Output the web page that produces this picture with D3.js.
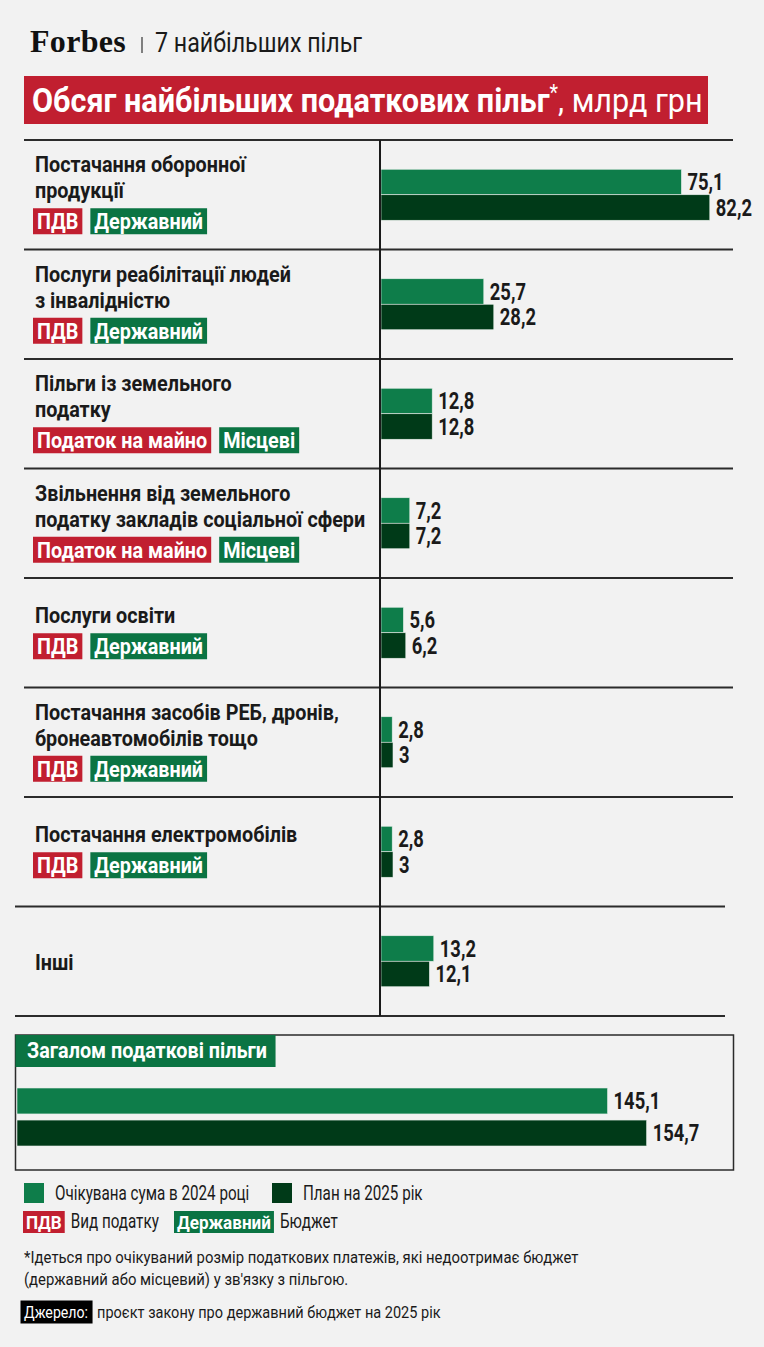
<!DOCTYPE html>
<html>
<head>
<meta charset="utf-8">
<script src="https://cdn.jsdelivr.net/npm/d3@7"></script>
<style>
  body { margin: 0; background: #f2f2f2; }
  svg { display: block; font-family: Roboto, "Noto Sans", sans-serif; }
</style>
</head>
<body>
<svg id="chart" width="764" height="1347"></svg>
<script>
// ---- data ----
var titles = [
  "Постачання оборонної\nпродукції",
  "Послуги реабілітації людей\nз інвалідністю",
  "Пільги із земельного\nподатку",
  "Звільнення від земельного\nподатку закладів соціальної сфери",
  "Послуги освіти",
  "Постачання засобів РЕБ, дронів,\nбронеавтомобілів тощо",
  "Постачання електромобілів",
  "Інші"
];
var taxTypes = ["ПДВ", "ПДВ", "Податок на майно", "Податок на майно", "ПДВ", "ПДВ", "ПДВ", null];
var budgets = ["Державний", "Державний", "Місцеві", "Місцеві", "Державний", "Державний", "Державний", null];
var expected2024 = [75.1, 25.7, 12.8, 7.2, 5.6, 2.8, 2.8, 13.2];
var plan2025 = [82.2, 28.2, 12.8, 7.2, 6.2, 3, 3, 12.1];
var totals = [145.1, 154.7];
var seriesNames = ["Очікувана сума в 2024 році", "План на 2025 рік"];

var colors = ["#0e7d4a", "#003a18"];
var red = "#c11f30", tagGreen = "#0b7443", ink = "#1a1a1a";
var C_BOLD = 0.9, C_REG = 0.86, C_LEG = 0.78, C_NUM = 0.8;

var svg = d3.select("#chart");

var locale = d3.formatLocale({decimal: ",", thousands: " ", grouping: [3], currency: ["", ""]});
var fmt = locale.format(".1~f");

// text helper: draws Roboto and squeezes it to a condensed look
function addText(parent, str, x, y, o) {
  o = o || {};
  var c = o.cond || C_BOLD;
  var t = parent.append("text")
    .attr("transform", "translate(" + x + "," + y + ") scale(" + c + ",1)")
    .attr("font-size", o.size || 22)
    .attr("font-weight", o.weight || 700)
    .attr("fill", o.fill || ink)
    .attr("text-anchor", o.anchor || "start")
    .text(str);
  t.w = t.node().getComputedTextLength() * c;
  return t;
}

function tag(parent, str, x, y, fill, h, size, pad) {
  h = h || 26;
  size = size || 22;
  pad = pad || 4;
  var r = parent.append("rect").attr("x", x).attr("y", y).attr("height", h).attr("fill", fill);
  var t = addText(parent, str, x + pad, y + h / 2 + size * 0.355, {size: size, fill: "#fff"});
  r.attr("width", t.w + 2 * pad);
  return x + t.w + 2 * pad;
}

// ---- header ----
svg.append("text")
  .attr("x", 30).attr("y", 52)
  .attr("font-family", "'Liberation Serif', 'DejaVu Serif', serif")
  .attr("font-size", 32).attr("font-weight", 700)
  .attr("letter-spacing", 0.3)
  .attr("fill", "#111")
  .text("Forbes");
svg.append("line")
  .attr("x1", 142).attr("x2", 142).attr("y1", 37).attr("y2", 53)
  .attr("stroke", "#333").attr("stroke-width", 1.2);
addText(svg, "7 найбільших пільг", 155, 52, {size: 27, weight: 400, cond: 0.86});

svg.append("rect").attr("x", 24).attr("y", 76).attr("width", 684).attr("height", 48).attr("fill", red);
var ttl = svg.append("text")
  .attr("transform", "translate(32,112) scale(0.9,1)")
  .attr("font-size", 34).attr("fill", "#fff");
ttl.append("tspan").attr("font-weight", 700).text("Обсяг найбільших податкових пільг");
ttl.append("tspan").attr("font-size", 22).attr("dy", -12).text("*");
ttl.append("tspan").attr("dy", 12).attr("font-weight", 400).text(", млрд грн");

// ---- rows ----
var rowTop = 140, rowBottom = 1016;
var y = d3.scaleBand().domain(d3.range(titles.length)).range([rowTop, rowBottom]);
var yInner = d3.scaleBand().domain([0, 1]).range([-25.5, 25.5]);
var x = d3.scaleLinear().domain([0, 100]).range([381, 781]);

// dividers
d3.range(titles.length + 1).forEach(function(i) {
  var yy = i < titles.length ? y(i) : rowBottom;
  var last = i >= titles.length - 1;
  svg.append("line")
    .attr("x1", last ? 15 : 24).attr("x2", last ? 725 : 733)
    .attr("y1", yy).attr("y2", yy)
    .attr("stroke", "#2b2b2b").attr("stroke-width", 2);
});

titles.forEach(function(title, i) {
  var g = svg.append("g");
  var cy = y(i) + y.bandwidth() / 2;
  var lines = title.split("\n");
  var hasTags = taxTypes[i] != null;
  var blockH = 15 + (lines.length - 1) * 26 + (hasTags ? 36 : 0);
  var base = cy - blockH / 2 + 16;
  lines.forEach(function(l, j) {
    addText(g, l, 35, base + j * 26, {size: 22});
  });
  if (hasTags) {
    var ty = base + (lines.length - 1) * 26 + 10;
    var nx = tag(g, taxTypes[i], 33, ty, red);
    tag(g, budgets[i], nx + 8, ty, tagGreen);
  }

  var vals = [expected2024[i], plan2025[i]];
  vals.forEach(function(v, k) {
    var by = cy + yInner(k);
    g.append("rect")
      .attr("x", x(0)).attr("y", by)
      .attr("width", x(v) - x(0)).attr("height", yInner.bandwidth())
      .attr("fill", colors[k])
      .attr("stroke", "#e6efe9").attr("stroke-width", 0.6);
    addText(g, fmt(v), x(v) + 6, by + yInner.bandwidth() / 2 + 8, {size: 23, cond: C_NUM});
  });
});

// axis line
svg.append("line")
  .attr("x1", 380).attr("x2", 380).attr("y1", rowTop).attr("y2", rowBottom)
  .attr("stroke", "#1a1a1a").attr("stroke-width", 2);

// ---- totals box ----
var box = svg.append("g");
box.append("rect").attr("x", 15.5).attr("y", 1035).attr("width", 718).attr("height", 135)
  .attr("fill", "none").attr("stroke", "#2b2b2b").attr("stroke-width", 1.5);
var lbl = addText(box, "Загалом податкові пільги", 27, 1058, {size: 22, fill: "#fff"});
box.insert("rect", "text").attr("x", 15.5).attr("y", 1035).attr("width", lbl.w + 20).attr("height", 32)
  .attr("fill", tagGreen);

var xTotal = d3.scaleLinear().domain([0, 100]).range([17, 424]);
var yTotal = d3.scaleBand().domain([0, 1]).range([1088, 1146]).paddingInner(0.19);
totals.forEach(function(v, k) {
  box.append("rect")
    .attr("x", xTotal(0)).attr("y", yTotal(k))
    .attr("width", xTotal(v) - xTotal(0)).attr("height", yTotal.bandwidth())
    .attr("fill", colors[k])
    .attr("stroke", "#e6efe9").attr("stroke-width", 0.6);
  addText(box, fmt(v), xTotal(v) + 6, yTotal(k) + yTotal.bandwidth() / 2 + 8, {size: 23, cond: C_NUM});
});

// ---- legend ----
var leg = svg.append("g");
var legX = [24, 272];
seriesNames.forEach(function(s, k) {
  leg.append("rect").attr("x", legX[k]).attr("y", 1183).attr("width", 20).attr("height", 20).attr("fill", colors[k]);
  addText(leg, s, legX[k] + 31, 1200, {size: 19.5, weight: 400, cond: C_LEG});
});
var nx = tag(leg, "ПДВ", 23, 1211, red, 22, 19, 3);
addText(leg, "Вид податку", nx + 6, 1228, {size: 19.5, weight: 400, cond: C_LEG});
nx = tag(leg, "Державний", 174, 1211, tagGreen, 22, 19, 3);
addText(leg, "Бюджет", nx + 6, 1228, {size: 19.5, weight: 400, cond: C_LEG});

addText(leg, "*Ідеться про очікуваний розмір податкових платежів, які недоотримає бюджет", 24, 1263, {size: 17.3, weight: 400, cond: C_REG});
addText(leg, "(державний або місцевий) у зв'язку з пільгою.", 24, 1285, {size: 17.3, weight: 400, cond: C_REG});

var src = addText(leg, "Джерело:", 24, 1318, {size: 17.3, weight: 400, fill: "#fff", cond: 0.82});
leg.insert("rect", "text").attr("x", 20.5).attr("y", 1300.5).attr("width", src.w + 8).attr("height", 23).attr("fill", "#000");
addText(leg, "проєкт закону про державний бюджет на 2025 рік", 24 + src.w + 9, 1318, {size: 17.3, weight: 400, cond: 0.84});
</script>
</body>
</html>
